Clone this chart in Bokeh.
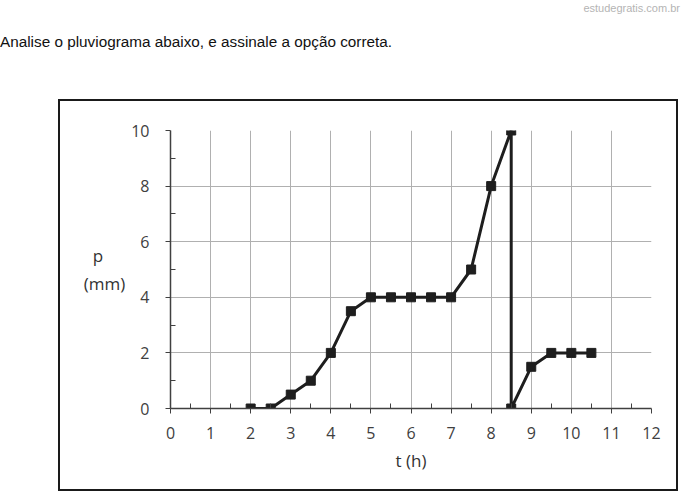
from bokeh.plotting import figure
from bokeh.models import Range1d, FixedTicker, Div
from bokeh.layouts import column
from bokeh.embed import file_html
from bokeh.resources import INLINE

# ---- data ----
t_hours = [2, 2.5, 3, 3.5, 4, 4.5, 5, 5.5, 6, 6.5, 7, 7.5, 8, 8.5, 8.5, 9, 9.5, 10, 10.5]
p_mm = [0, 0, 0.5, 1, 2, 3.5, 4, 4, 4, 4, 4, 5, 8, 10, 0, 1.5, 2, 2, 2]
x_ticks = list(range(0, 13))
x_minor = [x + 0.5 for x in range(0, 12)]
y_ticks = [0, 2, 4, 6, 8, 10]
y_minor = [1, 3, 5, 7, 9]
question = "Analise o pluviograma abaixo, e assinale a opção correta."
watermark = "estudegratis.com.br"
x_label = "t (h)"
y_label = "p\u00a0\u00a0\u00a0\u00a0\u00a0\n(mm)"

# ---- header (question text + watermark) ----
header_html = (
    '<div style="position:relative;width:680px;height:99px;">'
    '<span style="position:absolute;right:0px;top:1px;font-family:\'Liberation Sans\';'
    'font-size:11px;color:#b4b4b4;white-space:nowrap;">' + watermark + '</span>'
    '<span style="position:absolute;left:0px;top:31px;font-family:\'Liberation Sans\';'
    'font-size:15.3px;color:#111111;white-space:nowrap;">' + question + '</span>'
    '</div>'
)
header = Div(text=header_html, width=680, height=99, margin=(0, 0, 0, 0))

# ---- chart ----
W, H = 616, 388
p = figure(width=W, height=H, output_backend="svg", toolbar_location=None,
           x_range=Range1d(0, 12), y_range=Range1d(0, 10),
           min_border_left=110, min_border_right=29, min_border_top=29, min_border_bottom=85,
           margin=(0, 0, 0, 58), styles={"border": "2px solid #1a1a1a", "box-sizing": "content-box"})
p.background_fill_color = "white"
p.border_fill_color = "white"
p.outline_line_color = None

for g in (p.xgrid, p.ygrid):
    g.grid_line_color = "#b0b0b0"
    g.grid_line_width = 1
p.xaxis.ticker = FixedTicker(ticks=x_ticks, minor_ticks=x_minor)
p.yaxis.ticker = FixedTicker(ticks=y_ticks, minor_ticks=y_minor)

for ax in (p.xaxis, p.yaxis):
    ax.axis_line_color = "#404040"
    ax.axis_line_width = 1.5
    ax.major_tick_line_color = "#404040"
    ax.minor_tick_line_color = "#404040"
    ax.major_tick_in = 0
    ax.major_tick_out = 5
    ax.minor_tick_in = 5
    ax.minor_tick_out = 0
    ax.major_label_text_font = "Open Sans"
    ax.major_label_text_font_size = "16px"
    ax.major_label_text_color = "#404040"
    ax.axis_label_text_font = "Open Sans"
    ax.axis_label_text_font_size = "17px"
    ax.axis_label_text_font_style = "normal"
    ax.axis_label_text_color = "#333333"

p.xaxis.major_label_standoff = 13
p.yaxis.major_label_standoff = 16
p.xaxis.axis_label = x_label
p.xaxis.axis_label_standoff = 7
p.yaxis.axis_label = y_label
p.yaxis.axis_label_standoff = 3
yax = p.yaxis[0]
if hasattr(yax, "axis_label_orientation"):
    yax.axis_label_orientation = "horizontal"

p.line(t_hours, p_mm, line_color="#1e1e1e", line_width=3)
p.scatter(t_hours, p_mm, marker="square", size=9, fill_color="#1e1e1e", line_color="#1e1e1e")

layout = column(header, p, spacing=0)
open("out.html", "w").write(file_html(layout, INLINE))
